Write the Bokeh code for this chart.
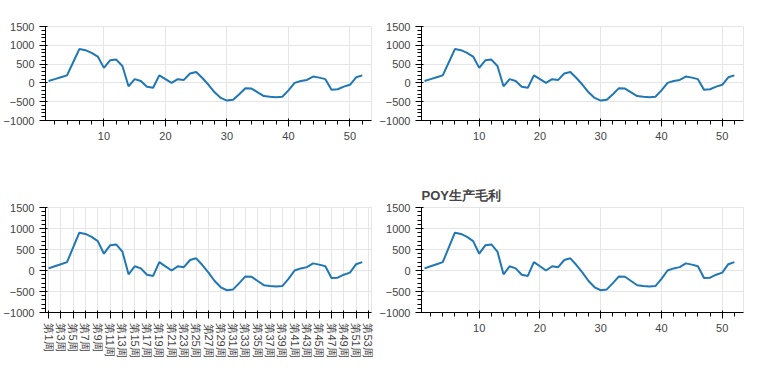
from bokeh.plotting import figure
from bokeh.models import Range1d, FixedTicker
from bokeh.layouts import gridplot
from bokeh.embed import file_html
from bokeh.resources import INLINE

weeks = list(range(1, 54))
tick_weeks = list(range(1, 54, 2))
week_labels = {w: f"第{w}周" for w in tick_weeks}
poy_2020 = [50, 100, 150, 200, 550, 900, 870, 800, 700, 400, 600, 620, 450, -90, 100, 50, -100, -130, 200, 100,
            0, 100, 80, 250, 290, 130, -50, -250, -400, -470, -450, -300, -140, -150, -250, -350, -370, -380, -370, -200,
            0, 50, 80, 170, 140, 100, -180, -170, -100, -50, 150, 200]


def mk(minb, vert, title):
    kw = dict(width=376, height=180, output_backend="svg", toolbar_location=None,
              x_range=Range1d(0.5, 53.5), y_range=Range1d(-1000, 1500))
    if minb:
        kw.update(min_border_left=36, min_border_right=9, min_border_top=26, min_border_bottom=60)
    p = figure(**kw)
    if title:
        p.title.text = "POY生产毛利"
    p.line(weeks[:52], poy_2020, line_width=2)
    if vert:
        p.xaxis[0].major_label_orientation = "vertical"
        p.xaxis[0].ticker = FixedTicker(ticks=tick_weeks)
        p.xaxis[0].major_label_overrides = week_labels
    return p

p1 = mk(False, False, False)
p2 = mk(True, False, False)
p3 = mk(False, True, False)
p4 = mk(False, False, True)
grid = gridplot([[p1, p2], [p3, p4]], toolbar_location=None)
open("out.html", "w").write(file_html(grid, INLINE))
